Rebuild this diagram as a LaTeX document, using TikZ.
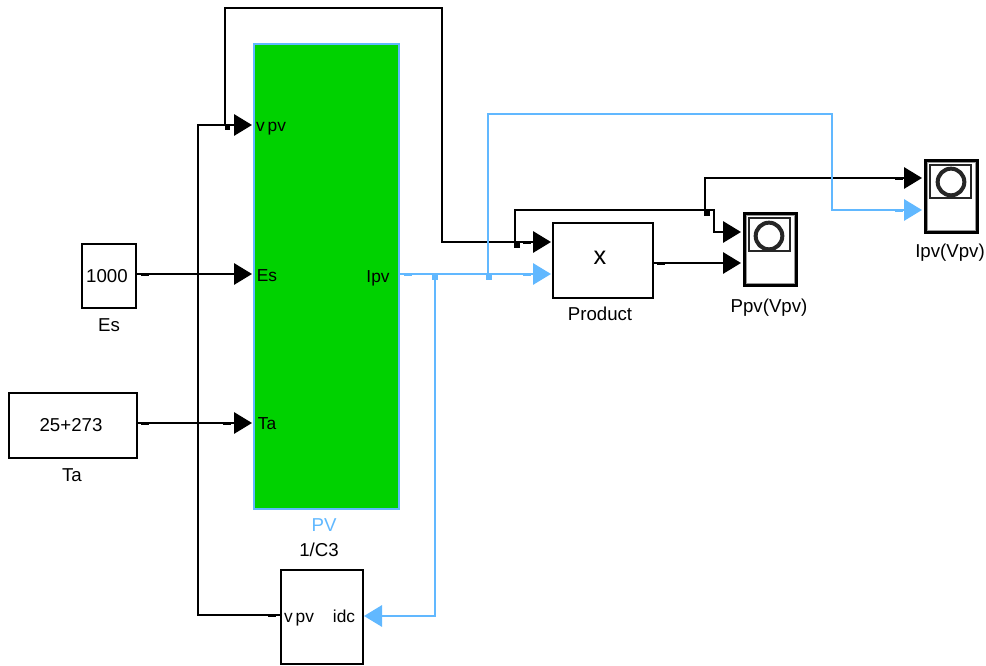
\documentclass[tikz,border=0pt]{standalone}
\usepackage{fontspec}
\setmainfont{Liberation Sans}
\usetikzlibrary{arrows.meta}
\definecolor{pvblue}{RGB}{97,184,255}
\definecolor{pvgreen}{RGB}{0,210,0}
\tikzset{
  block/.style={draw=black, line width=1.5pt, fill=white, inner sep=0pt, font=\fontsize{14}{16}\selectfont},
  blocksize/.style 2 args={minimum width=#1*0.75pt, minimum height=#2*0.75pt},
  label/.style={inner sep=0pt, font=\fontsize{14}{16}\selectfont},
  portlabel/.style={inner sep=0pt, font=\fontsize{13}{15}\selectfont},
  wire/.style={line width=1.5pt, draw=black, -{Triangle[length=13.5pt,width=16pt,fill=black]}},
  bluewire/.style={line width=1.5pt, draw=pvblue, -{Triangle[length=13.5pt,width=16pt,fill=pvblue]}},
  dot/.style={fill=#1, draw=none, inner sep=0pt, minimum size=3.8pt},
  scopebox/.style={draw=black, line width=2.6pt, fill=white, inner sep=0pt, minimum width=39pt, minimum height=54pt},
  scopedial/.style={draw=black!85, line width=3pt, circle, inner sep=0pt, minimum size=20pt}
}
\begin{document}
\begin{tikzpicture}[x=0.75pt,y=-0.75pt]
\useasboundingbox (0,0) rectangle (986,666);
% blocks
\node[block, blocksize={54}{64}] (Es) at (109,276) {1000\kern3pt};
\node[block, blocksize={128}{65}] (Ta) at (73,425.5) {25+273\kern3pt};
\node[block, draw=pvblue, fill=pvgreen, blocksize={145}{465}] (PV) at (326.5,276.5) {};
\node[block, blocksize={82}{94}] (C3) at (322,617) {};
\node[block, blocksize={100}{75}] (Product) at (603,260.5) {};
\node[scopebox] (Ppv) at (770.5,249.5) {};
\node[scopebox] (Ipv) at (951.5,196.5) {};
% scope screens
\draw[black!40, line width=0.75pt] (746.5,283.5) rectangle (794.5,215.5);
\draw[black!40, line width=0.75pt] (927.5,230.5) rectangle (975.5,162.5);
\draw[black!85, line width=1pt] (749,251) -- (749,218) -- (790,218) -- (790,251) -- cycle;
\draw[black!85, line width=1pt] (930,198) -- (930,165) -- (971,165) -- (971,198) -- cycle;
\node[scopedial] (Ppvdial) at (769,236) {};
\node[scopedial] (Ipvdial) at (951,182) {};
% names and port labels
\node[label] (Esname) at (109,325) {Es};
\node[label] (Taname) at (72,475) {Ta};
\node[label, text=pvblue] (PVname) at (324,525) {PV};
\node[label] (C3name) at (319,550) {1/C3};
\node[label] (Productname) at (600,314) {Product};
\node[label] (Ppvname) at (769,308) {Ppv(Vpv)};
\node[label] (Ipvname) at (950,253) {Ipv(Vpv)};
\node[label, font=\fontsize{19}{19}\selectfont] (Productsign) at (600,258) {x};
\node[portlabel] (vpvport) at (271,129) {v\,pv};
\node[portlabel] (Esport) at (267,276) {Es};
\node[portlabel] (Taport) at (267,424) {Ta};
\node[portlabel] (Ipvport) at (378,278) {Ipv};
\node[portlabel] (C3vpv) at (299,620) {v\,pv};
\node[portlabel] (C3idc) at (344,616) {idc};
% end points of the wires
\coordinate (invpv) at (252,125);
\coordinate (inEs) at (252,274);
\coordinate (inTa) at (252,423);
\coordinate (inProdA) at (551,242);
\coordinate (inProdB) at (551,274);
\coordinate (inPpvA) at (741,232);
\coordinate (inPpvB) at (741,263);
\coordinate (inIpvA) at (922,178);
\coordinate (inIpvB) at (922,210);
\coordinate (inidc) at (364,616);
\coordinate (outC3) at (281,615);
\coordinate (outPV) at (399,274);
% junctions
\coordinate (jvpv) at (225,125);
\coordinate (jprod) at (515,242);
\coordinate (jscope) at (705,210);
\coordinate (jidc) at (435,274);
\coordinate (jipv) at (488,274);
% black wires
\draw[wire] (Es.east |- inEs) -- (inEs);
\draw[wire] (Ta.east |- inTa) -- (inTa);
\draw[wire] (outC3) -- (198,615) -- (198,125) -- (invpv);
\draw[wire] (jvpv) -- (225,8) -- (442,8) -- (442,242) -- (inProdA);
\draw[wire] (jprod) -- (515,210) -- (714,210) -- (714,232) -- (inPpvA);
\draw[wire] (jscope) -- (705,178) -- (inIpvA);
\draw[wire] (Product.east |- inPpvB) -- (inPpvB);
% blue wires
\draw[bluewire] (outPV) -- (inProdB);
\draw[bluewire] (jidc) -- (435,616) -- (inidc);
\draw[bluewire] (jipv) -- (488,114) -- (832,114) -- (832,210) -- (inIpvB);
% junction dots
\node[dot=black] (dotvpv) at (227.5,127) {};
\node[dot=black] (dotprod) at (517,245) {};
\node[dot=black] (dotscope) at (707,213) {};
\node[dot=pvblue] (dotidc) at (435,277) {};
\node[dot=pvblue] (dotipv) at (489,277) {};
% small marks on the wires
\foreach \x/\y in {145/275,227/274,145/424,227/424,272/616,527/243,661/264,727/233,727/264,899/179}
  \fill[black] (\x-4,\y-1) rectangle (\x+4,\y+1);
\foreach \x/\y in {527/275,408/275,899/211,388/616}
  \fill[pvblue] (\x-4,\y-1) rectangle (\x+4,\y+1);
\end{tikzpicture}
\end{document}
